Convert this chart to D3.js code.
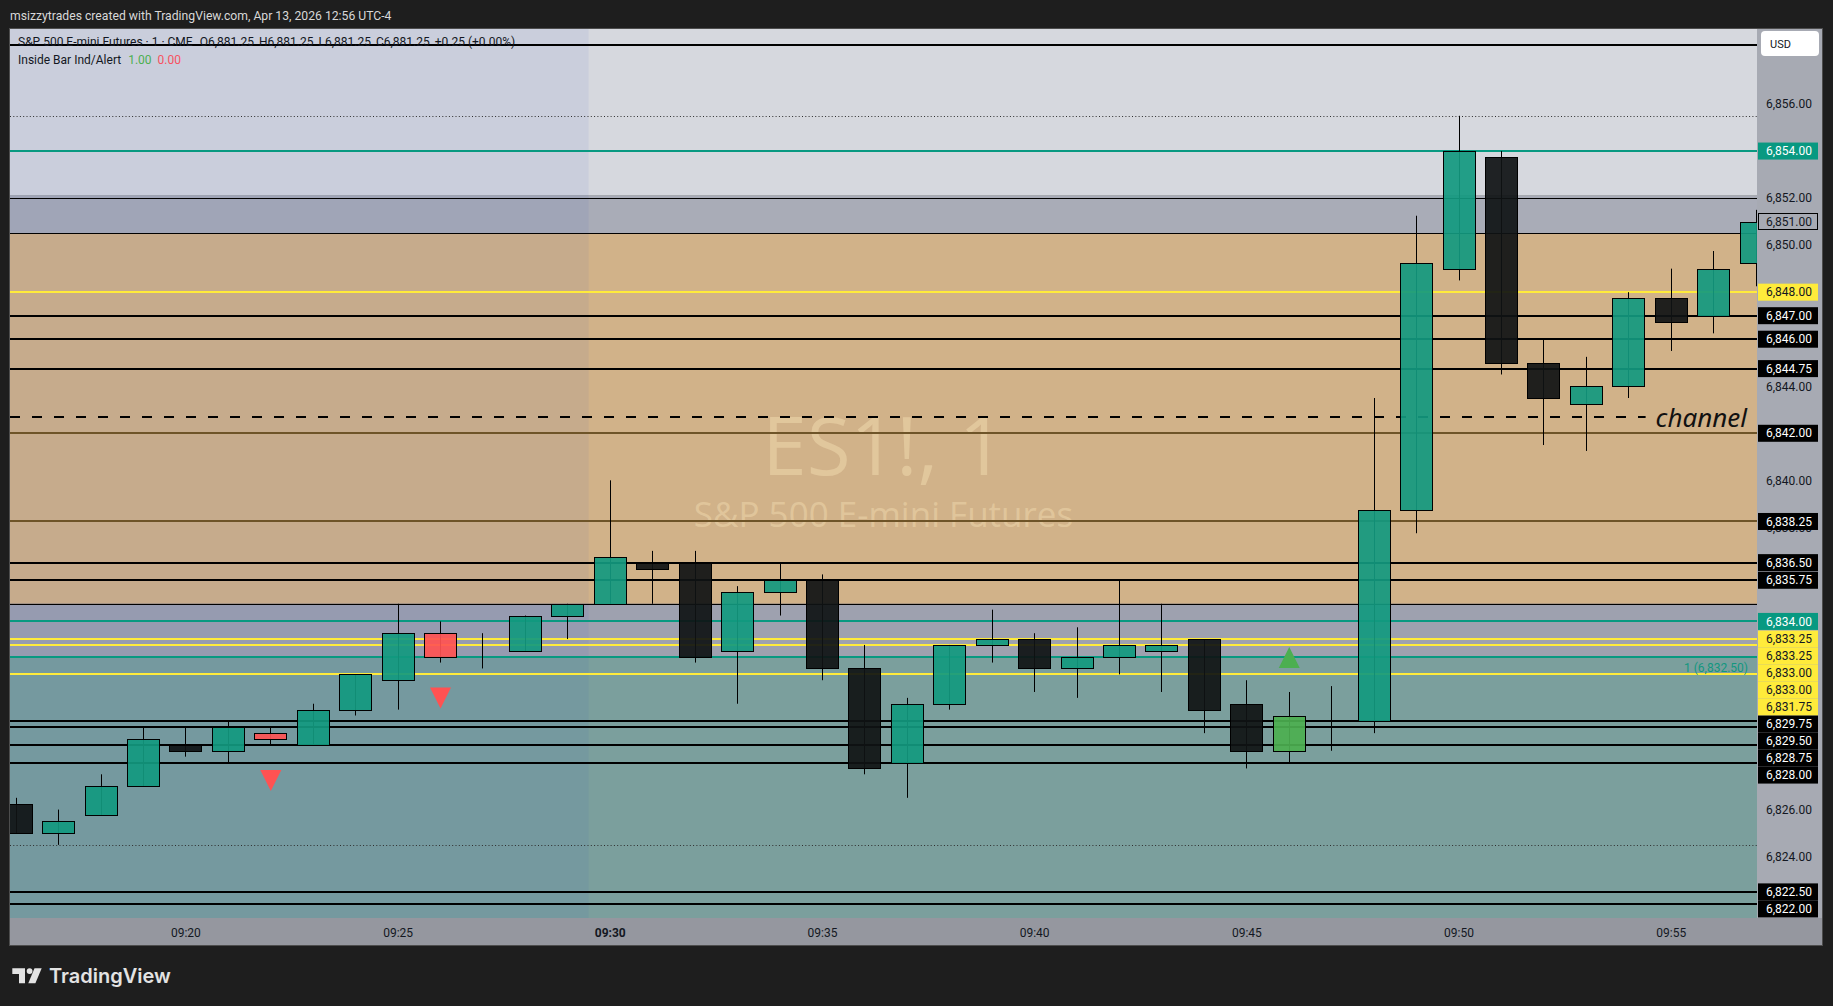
<!DOCTYPE html>
<html><head><meta charset="utf-8">
<script src="https://cdn.jsdelivr.net/npm/d3@7/dist/d3.min.js"></script>
<style>
html,body{margin:0;padding:0;background:#1e1e1e;overflow:hidden;}
svg{display:block;}
</style></head><body>
<svg id="c" width="1833" height="1006"></svg>
<script>
// ---------------- DATA ----------------
const times  = ["09:16","09:17","09:18","09:19","09:20","09:21","09:22","09:23","09:24","09:25","09:26","09:27","09:28","09:29",
                "09:30","09:31","09:32","09:33","09:34","09:35","09:36","09:37","09:38","09:39","09:40","09:41","09:42","09:43",
                "09:44","09:45","09:46","09:47","09:48","09:49","09:50","09:51","09:52","09:53","09:54","09:55","09:56","09:57"];
const opens  = [6826.25,6825.0,6825.75,6827.0,6828.75,6828.5,6829.25,6828.75,6830.25,6831.5,6833.5,6832.75,6832.75,6834.25,
                6834.75,6836.5,6836.5,6832.75,6835.25,6835.75,6832.0,6828.0,6830.5,6833.0,6833.25,6832.0,6832.5,6832.75,
                6833.25,6830.5,6828.5,6829.75,6829.75,6838.75,6849.0,6853.75,6845.0,6843.25,6844.0,6847.75,6847.0,6849.25];
const highs  = [6826.5,6826.0,6827.5,6829.5,6829.5,6829.75,6829.5,6830.5,6831.75,6834.75,6834.0,6833.5,6834.25,6834.75,
                6840.0,6837.0,6837.0,6835.5,6836.5,6836.0,6833.0,6830.75,6833.0,6834.5,6833.5,6833.75,6835.75,6834.75,
                6833.25,6831.5,6831.0,6831.25,6843.5,6851.25,6855.5,6854.0,6846.0,6845.25,6848.0,6849.0,6849.75,6851.5];
const lows   = [6825.0,6824.5,6825.75,6827.0,6828.25,6828.0,6828.75,6828.75,6830.0,6830.25,6832.25,6832.0,6832.75,6833.25,
                6834.75,6834.75,6832.25,6830.5,6834.25,6831.5,6827.5,6826.5,6830.25,6832.25,6831.0,6830.75,6831.75,6831.0,
                6829.25,6827.75,6828.0,6828.5,6829.25,6837.75,6848.5,6844.5,6841.5,6841.25,6843.5,6845.5,6846.25,6848.25];
const closes = [6825.0,6825.5,6827.0,6829.0,6828.5,6829.5,6829.0,6830.25,6831.75,6833.5,6832.5,6832.75,6834.25,6834.75,
                6836.75,6836.25,6832.5,6835.25,6835.75,6832.0,6827.75,6830.5,6833.0,6833.25,6832.0,6832.5,6833.0,6833.0,
                6830.25,6828.5,6830.0,6829.75,6838.75,6849.25,6854.0,6845.0,6843.5,6844.0,6847.75,6846.75,6849.0,6851.0];
// bar colouring from the "Inside Bar Ind/Alert" script
const barKinds = ["down","up","up","up","down","up","inside","up","up","up","inside","down","up","up",
                  "up","down","down","up","up","down","down","up","up","up","down","up","up","up",
                  "down","down","signal","down","up","up","up","down","down","up","up","down","up","up"];
const markerTimes = ["09:22","09:26","09:46"];
const markerDirs  = ["down","down","up"];

const timeTickLabels = ["09:20","09:25","09:30","09:35","09:40","09:45","09:50","09:55"];
const sessionTick = "09:30";
const priceTicks = [6822,6824,6826,6828,6830,6832,6834,6836,6838,6840,6842,6844,6846,6848,6850,6852,6854,6856];

// horizontal levels drawn on the chart
const levelPrices = [6858.5,6855.5,6854,6852,6850.5,6848,6847,6846,6844.75,6842.7,6842,6838.25,6836.5,6835.75,6834.75,
                     6834,6833.25,6833.25,6833.0,6833.0,6832.5,6831.75,6829.75,6829.5,6828.75,6828,6824.5,6822.5,6822];
const levelKinds  = ["black","dotted","teal","thin","thin","yellow","black","black","black","dashed","brown","brown","black","black","thin",
                     "teal","yellow","yellow","yellow","yellow","teal","yellow","black","black","black","black","dotted","black","black"];
const levelTagged = [0,0,1,0,0,1,1,1,1,0,1,1,1,1,0,
                     1,1,1,1,1,0,1,1,1,1,1,0,1,1];
const channelText = "channel";
const alertText = "1 (6,832.50)";
const alertPrice = 6832.5;
const lastPrice = 6851.0;

// shaded price zones (boundaries, top to bottom)
const zoneBreaks = [6852.1, 6850.5, 6834.75, 6832.5];
const zoneColors = ["#d6d8de","#a9acb7","#d1b289","#9ea1af","#7b9f9d"];
const sessionOpen = "09:29:30";

const titleText = "msizzytrades created with TradingView.com, Apr 13, 2026 12:56 UTC-4";
const legendName = "S&P 500 E-mini Futures · 1 · CME";
const legendOHLC = ["O6,881.25","H6,881.25","L6,881.25","C6,881.25","+0.25 (+0.00%)"];
const indName = "Inside Bar Ind/Alert";
const indValues = ["1.00","0.00"];
const wmMain = "ES1!, 1";
const wmSub = "S&P 500 E-mini Futures";

// ---------------- LAYOUT ----------------
const W = 1833, H = 1006;
const P = {l:10, r:1757, t:29, b:918};
const axisR = 1822, timeB = 945;
const FONT = "Roboto, 'Noto Sans', sans-serif";

const svg = d3.select("#c");
svg.append("rect").attr("width",W).attr("height",H).attr("fill","#1e1e1e");

const pHM = d3.timeParse("%H:%M"), pHMS = d3.timeParse("%H:%M:%S");
const x = d3.scaleTime().domain([pHMS("09:15:52"), pHMS("09:57:02")]).range([P.l, P.r]);
const y = d3.scaleLinear().domain([6821.39, 6859.19]).range([P.b, P.t]);

svg.append("defs").append("clipPath").attr("id","pc").append("rect")
  .attr("x",P.l).attr("y",P.t).attr("width",P.r-P.l).attr("height",P.b-P.t);
const g = svg.append("g").attr("clip-path","url(#pc)");

// zones
const edges = [y.domain()[1], ...zoneBreaks, y.domain()[0]];
g.selectAll("rect.zone").data(zoneColors).join("rect").attr("class","zone")
  .attr("x",P.l).attr("width",P.r-P.l)
  .attr("y",(d,i)=>y(edges[i])).attr("height",(d,i)=>y(edges[i+1])-y(edges[i]))
  .attr("fill",d=>d);
// pre-market session tint
g.append("rect").attr("x",P.l).attr("y",P.t).attr("width",x(pHMS(sessionOpen))-P.l).attr("height",P.b-P.t)
  .attr("fill","rgba(40,80,200,0.065)");

// watermark
const cx0 = (P.l+P.r)/2;
g.append("text").attr("x",cx0).attr("y",475).attr("text-anchor","middle")
  .attr("font-family","'Open Sans', sans-serif").attr("font-size",80)
  .attr("fill","rgba(255,235,190,0.36)").text(wmMain);
g.append("text").attr("x",cx0).attr("y",527).attr("text-anchor","middle")
  .attr("font-family","'Open Sans', sans-serif").attr("font-size",35)
  .attr("fill","rgba(255,235,190,0.36)").text(wmSub);

// level lines
const lstyle = {
  black:{c:"#000",w:2}, thin:{c:"#000",w:1}, yellow:{c:"#ffeb3b",w:2}, teal:{c:"#089981",w:2},
  brown:{c:"#6e5428",w:2}, dotted:{c:"#2e2e2e",w:1,d:"1,2.3"}, dashed:{c:"#000",w:2,d:"10,12"}
};
const crisp = (v,w)=> w%2 ? Math.round(v)+0.5 : Math.round(v);

// channel label (measure first)
const chIdx = levelKinds.indexOf("dashed");
const chY = y(levelPrices[chIdx]);
const chText = g.append("text").attr("x",P.r-10).attr("y",chY+10.5).attr("text-anchor","end")
  .attr("font-family","'Noto Sans', sans-serif").attr("font-style","italic").attr("font-size",26)
  .attr("fill","#111").text(channelText);
const chStart = P.r-10-chText.node().getComputedTextLength();

levelPrices.forEach((p,i)=>{
  const s = lstyle[levelKinds[i]];
  const yy = crisp(y(p), s.w);
  const x2 = levelKinds[i]==="dashed" ? chStart-10 : P.r;
  const ln = g.append("line").attr("x1",P.l).attr("x2",x2).attr("y1",yy).attr("y2",yy)
    .attr("stroke",s.c).attr("stroke-width",s.w);
  if (s.d) ln.attr("stroke-dasharray",s.d);
});
chText.raise();

// alert text
g.append("text").attr("x",P.r-9).attr("y",y(alertPrice)+15).attr("text-anchor","end")
  .attr("font-family",FONT).attr("font-size",12).attr("fill","#12977f").text(alertText);

// candles
const bars = times.map((t,i)=>({t:pHM(t),o:opens[i],h:highs[i],l:lows[i],c:closes[i],k:barKinds[i]}));
const step = x(pHM("09:21"))-x(pHM("09:20"));
const bw = Math.round(step*0.755);
const fills = {up:"#12997f", down:"#0f1213", inside:"#ff5252", signal:"#4caf50"};
const cg = g.append("g");
bars.forEach(b=>{
  const cx = Math.round(x(b.t));
  cg.append("line").attr("x1",cx+0.5).attr("x2",cx+0.5).attr("y1",y(b.h)).attr("y2",y(b.l))
    .attr("stroke","#000").attr("stroke-width",1);
  const top = Math.round(y(Math.max(b.o,b.c))), bot = Math.round(y(Math.min(b.o,b.c)));
  const hgt = Math.max(0, bot-top);
  cg.append("rect").attr("x",cx-bw/2+0.5).attr("y",top+0.5).attr("width",bw).attr("height",hgt)
    .attr("fill",fills[b.k]).attr("fill-opacity",0.92).attr("stroke","#000").attr("stroke-width",1);
});

// indicator markers
markerTimes.forEach((t,i)=>{
  const bi = times.indexOf(t), b = bars[bi];
  const cx = x(b.t)+0.5, hw = 10.5, th = 21;
  let pts;
  if (markerDirs[i]==="down") { const t0 = y(b.l)+25; pts=[[cx-hw,t0],[cx+hw,t0],[cx,t0+th]]; }
  else { const b0 = y(b.h)-24; pts=[[cx-hw,b0],[cx+hw,b0],[cx,b0-th]]; }
  g.append("path").attr("d",d3.line()(pts)+"Z").attr("fill",markerDirs[i]==="down"?"#ff5252":"#4caf50");
});

// legend
const lg = svg.append("g").attr("font-family",FONT).attr("font-size",12).attr("fill","#131722");
const l1 = lg.append("text").attr("x",18).attr("y",46);
l1.append("tspan").text(legendName);
legendOHLC.forEach((s,i)=> l1.append("tspan").attr("dx",i===0?7:5).text(s));
const l2 = lg.append("text").attr("x",18).attr("y",63.5);
l2.append("tspan").text(indName);
l2.append("tspan").attr("dx",7).attr("fill","#4caf50").text(indValues[0]);
l2.append("tspan").attr("dx",6).attr("fill","#f7525f").text(indValues[1]);

// title
svg.append("text").attr("x",10).attr("y",19.5).attr("font-family",FONT).attr("font-size",12.2)
  .attr("fill","#d8d8d8").text(titleText);

// price axis
svg.append("rect").attr("x",P.r).attr("y",P.t).attr("width",axisR-P.r).attr("height",P.b-P.t).attr("fill","#a7aab3");
// time axis
svg.append("rect").attr("x",P.l).attr("y",P.b).attr("width",axisR-P.l).attr("height",timeB-P.b).attr("fill","#95979f");

// level price tags (stacked to avoid overlap)
const fmt = d3.format(",.2f");
const tagCol = {
  black:{bg:"#000",fg:"#fff"}, brown:{bg:"#000",fg:"#fff"},
  yellow:{bg:"#ffeb3b",fg:"#131722"}, teal:{bg:"#089981",fg:"#fff"}
};
const tags = levelPrices.map((p,i)=>({p,k:levelKinds[i],on:levelTagged[i]})).filter(d=>d.on)
  .map(d=>({...d, y:y(d.p)})).sort((a,b)=>a.y-b.y);
const TH = 17;
let prev = -1e9;
tags.forEach(d=>{ d.ly = Math.max(d.y, prev+TH); prev = d.ly; });
// merged coverage of tags, to skip axis ticks that are fully hidden behind them
const cover = [];
tags.forEach(d=>{
  const a = d.ly-TH/2, b = d.ly+TH/2;
  if (cover.length && a <= cover[cover.length-1][1]+1) cover[cover.length-1][1] = Math.max(cover[cover.length-1][1], b);
  else cover.push([a,b]);
});
const hidden = p => { const yy = y(p); return cover.some(([a,b]) => yy-4.5 >= a && yy+4.5 <= b); };
const visibleTicks = priceTicks.filter(p => !hidden(p));

const ya = svg.append("g").attr("transform",`translate(${P.r},0)`)
  .call(d3.axisRight(y).tickValues(visibleTicks).tickSize(0).tickPadding(9).tickFormat(fmt));
ya.select(".domain").remove();
ya.selectAll("text").attr("font-family",FONT).attr("font-size",12).attr("fill","#131722");

const xa = svg.append("g").attr("transform",`translate(0,${P.b})`)
  .call(d3.axisBottom(x).tickValues(timeTickLabels.map(pHM)).tickSize(0).tickPadding(10).tickFormat(d3.timeFormat("%H:%M")));
xa.select(".domain").remove();
xa.selectAll("text").attr("font-family",FONT).attr("font-size",12).attr("fill","#131722")
  .attr("font-weight", d => d3.timeFormat("%H:%M")(d)===sessionTick ? 700 : 400);

// USD box
svg.append("rect").attr("x",1761).attr("y",31).attr("width",58).attr("height",25).attr("rx",4).attr("fill","#fff");
svg.append("text").attr("x",1770).attr("y",47.5).attr("font-family",FONT).attr("font-size",11).attr("fill","#131722").text("USD");

const tg = svg.append("g").attr("font-family",FONT).attr("font-size",12);
tags.forEach(d=>{
  const c = tagCol[d.k];
  tg.append("rect").attr("x",1758).attr("y",d.ly-TH/2).attr("width",60).attr("height",TH).attr("fill",c.bg);
  tg.append("text").attr("x",1766).attr("y",d.ly).attr("dy","0.35em").attr("fill",c.fg).text(fmt(d.p));
});
// last price tag (outlined)
const lpY = y(lastPrice);
tg.append("rect").attr("x",1758.5).attr("y",Math.round(lpY-TH/2)+0.5).attr("width",59).attr("height",TH-1)
  .attr("fill","none").attr("stroke","#000").attr("stroke-width",1);
tg.append("text").attr("x",1766).attr("y",lpY).attr("dy","0.35em").attr("fill","#131722").text(fmt(lastPrice));

// panel border
svg.append("rect").attr("x",9.5).attr("y",28.5).attr("width",axisR-9).attr("height",timeB-28).attr("fill","none")
  .attr("stroke","#4d4d4d").attr("stroke-width",1);

// footer logo
const fg = svg.append("g").attr("fill","#e3e3e3");
fg.append("path").attr("d","M12.3,968.3H25V983.3H19V974H12.3Z");
fg.append("circle").attr("cx",29.6).attr("cy",971.1).attr("r",2.9);
fg.append("path").attr("d","M34.5,968.3H41.7L35.4,983.3H28.3Z");
svg.append("text").attr("x",49).attr("y",983.3).attr("font-family","Inter, Roboto, sans-serif")
  .attr("font-weight",600).attr("font-size",20).attr("fill","#e3e3e3").text("TradingView");
</script>
</body></html>
